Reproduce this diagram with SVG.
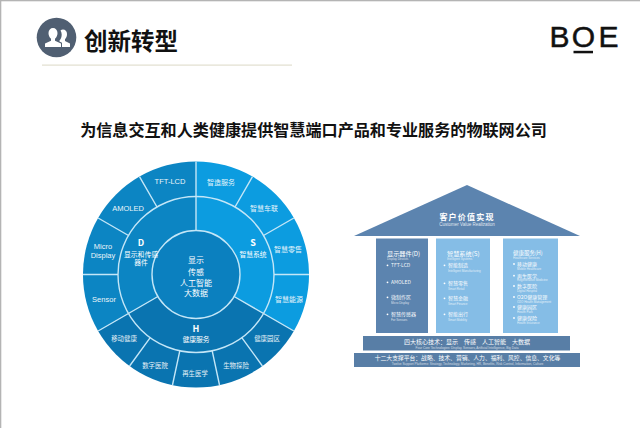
<svg xmlns="http://www.w3.org/2000/svg" width="640" height="428" viewBox="0 0 640 428">
<style>
text{font-family:"Noto Sans CJK SC","Liberation Sans",sans-serif;text-anchor:middle}
.r{font-size:6.4px;fill:#fff;opacity:.9}
.r7{font-size:7px;fill:#fff;opacity:.9}
.e{font-size:7.5px;fill:#fff;font-family:"Liberation Sans","Noto Sans CJK SC",sans-serif;opacity:.92}
.m{font-size:6.800px;fill:#fff}
.c{font-size:8px;fill:#fff}
.d{stroke:#c4e6f7;stroke-width:1.4;fill:none}
.t{font-size:5px;fill:#fff;text-anchor:start;opacity:.95}
.s{font-size:3px;fill:#fff;text-anchor:start;opacity:.75;font-family:"Liberation Sans",sans-serif}
.h{font-size:6.200px;fill:#fff;text-anchor:start}
.l{font-family:"Liberation Sans",sans-serif;font-size:30px;fill:#111;stroke:#111;stroke-width:.5}
</style>
<rect width="640" height="428" fill="#fff"/>
<rect width="640" height="1.3" fill="#b4b4b4"/>
<rect width="1.3" height="428" fill="#b4b4b4"/>
<g id="header">
<circle cx="56.500" cy="37.500" r="19.800" fill="#505f72"/>
<path d="M45 47v-3.500l6-2.800v-2c-1.800-1.500-2.500-3.500-2.500-5.700 0-3 2-5 4.500-5s4.500 2 4.500 5c0 2.200-.7 4.200-2.500 5.700v2l6 2.800V47z" fill="#fff"/>
<path d="M62 47h8v-3.500l-5-2.500v-1.800c1.500-1.500 2-3.300 2-5.200 0-2.800-1.800-4.500-4-4.500-1 0-1.800.3-2.500 1 .8 1.200 1.200 2.500 1.200 4 0 2.300-.7 4.500-2.200 6v1l2.500 1.300z" fill="#fff"/>
<text x="131" y="49.500" font-size="23.500" font-weight="700" fill="#111">创新转型</text>
<rect x="42" y="64.500" width="250" height="1.200" fill="#e2dfcf"/>
</g>
<g id="logo">
<text class="l" x="559.500" y="46.500">B</text>
<text class="l" x="583.500" y="46.500">O</text>
<text class="l" x="608.500" y="46.500">E</text>
<rect x="573.500" y="50.800" width="19.500" height="2.500" fill="#111"/>
</g>
<text id="headline" x="313.500" y="136" font-size="16.100" font-weight="700" fill="#111">为信息交互和人类健康提供智慧端口产品和专业服务的物联网公司</text>
<g id="wheel">
<path d="M196 274.500V161.500A113 113 0 0 1 293.900 331L196 274.500Z" fill="#0c9ce0"/>
<path d="M196 274.500L293.900 331A113 113 0 0 1 98.100 331Z" fill="#0a74b0"/>
<path d="M196 274.500L98.100 331A113 113 0 0 1 196 161.500Z" fill="#0c85c3"/>
<circle cx="196" cy="274.500" r="44" fill="#0b80bf"/>
<circle class="d" cx="196" cy="274.500" r="78"/>
<circle class="d" cx="196" cy="274.500" r="44"/>
<g id="connectors">
<path class="d" d="M196 230.500V161.500M234.100 296.500L293.900 331M157.900 296.500L98.100 331"/>
<path class="d" d="M235 207L252.500 176.600M263.500 235.500L293.900 218M274 274.500H309"/>
<path class="d" d="M241.800 337.600L262.400 366M212.200 350.800L219.500 385M179.800 350.800L172.500 385M150.200 337.600L129.600 366"/>
<path class="d" d="M157 207L139.500 176.600M128.500 235.500L98.100 218M118 274.500H83"/>
</g>
</g>
<g id="center"><text class="c" x="196" y="263">显示</text><text class="c" x="196" y="274.500">传感</text><text class="c" x="196" y="285.500">人工智能</text><text class="c" x="196" y="296">大数据</text></g>
<g id="seg-d"><text x="141" y="246" font-size="9" font-weight="700" fill="#fff">D</text><text class="m" x="141" y="256.500">显示和传感</text><text class="m" x="141" y="265">器件</text></g>
<g id="seg-s"><text x="253" y="246" font-size="9" font-weight="700" fill="#fff">S</text><text class="m" x="253" y="256.500">智慧系统</text></g>
<g id="seg-h"><text x="196" y="331.500" font-size="9" font-weight="700" fill="#fff">H</text><text class="m" x="196" y="341.500">健康服务</text></g>
<g id="outer-labels">
<text class="e" x="170" y="183.500">TFT-LCD</text>
<text class="e" x="128" y="210.500">AMOLED</text>
<text class="e" x="103" y="248.500">Micro</text>
<text class="e" x="103" y="257.500">Display</text>
<text class="e" x="104" y="301.500">Sensor</text>
<text class="r" x="124" y="341">移动健康</text>
<text class="r" x="155" y="368">数字医院</text>
<text class="r" x="195" y="376">再生医学</text>
<text class="r" x="236" y="368">生物探险</text>
<text class="r" x="267" y="341">健康园区</text>
<text class="r7" x="221" y="184.500">智造服务</text>
<text class="r7" x="264" y="210.500">智慧车联</text>
<text class="r7" x="288" y="251.500">智慧零售</text>
<text class="r7" x="289" y="301.500">智慧能源</text>
</g>
<g id="roof">
<path d="M467 185L354 236H580Z" fill="#5c84af"/>
<text x="467" y="219.500" font-size="8" font-weight="700" fill="#fff" letter-spacing="1.200">客户价值实现</text>
<text x="467" y="226" font-size="4.500" fill="#fff" opacity=".8" style="font-family:'Liberation Sans',sans-serif">Customer Value Realization</text>
</g>
<g id="col-d">
<rect x="376" y="238.500" width="52" height="94.500" fill="#5c84af"/>
<text class="h" x="387" y="255.500">显示器件(D)</text><text class="s" x="387" y="259.500">Display Devices</text>
<text class="t" x="391" y="267">TFT-LCD</text><text class="t" x="391" y="284">AMOLED</text>
<text class="t" x="391" y="299">微制作区</text><text class="s" x="391" y="303.500">Micro Display</text>
<text class="t" x="391" y="316">智慧传感器</text><text class="s" x="391" y="321">For Sensors</text>
<g fill="#fff"><circle cx="387.500" cy="265.300" r=".9"/><circle cx="387.500" cy="282.300" r=".9"/><circle cx="387.500" cy="297.300" r=".9"/><circle cx="387.500" cy="314.300" r=".9"/></g>
</g>
<g id="col-s">
<rect x="436" y="238.500" width="54" height="94.500" fill="#85bde6"/>
<text class="h" x="447" y="255.500">智慧系统(S)</text><text class="s" x="447" y="259.500">Intelligent Systems</text>
<text class="t" x="448" y="267">智能制造</text><text class="s" x="448" y="271.500">Intelligent Manufacturing</text>
<text class="t" x="448" y="285">智慧零售</text><text class="s" x="448" y="289.500">Smart Retail</text>
<text class="t" x="448" y="300">智慧金融</text><text class="s" x="448" y="304.500">Smart Finance</text>
<text class="t" x="448" y="316">智能出行</text><text class="s" x="448" y="320.500">Smart Mobility</text>
<g fill="#fff"><circle cx="444.500" cy="265.300" r=".9"/><circle cx="444.500" cy="283.300" r=".9"/><circle cx="444.500" cy="298.300" r=".9"/><circle cx="444.500" cy="314.300" r=".9"/></g>
</g>
<g id="col-h">
<rect x="503" y="238.500" width="55" height="94.500" fill="#85bde6"/>
<text class="h" x="513" y="254.500" style="font-size:5.500px">健康服务(H)</text><text class="s" x="513" y="258.500">Healthcare Services</text>
<text class="t" x="517" y="265.800">移动健康</text><text class="s" x="517" y="269.500">Mobile Healthcare</text>
<text class="t" x="517" y="277.500">再生医学</text><text class="s" x="517" y="281.300">Regenerative Medicine</text>
<text class="t" x="517" y="287.800">数字医院</text><text class="s" x="517" y="291.500">Digital Hospital</text>
<text class="t" x="517" y="298.800">O2O健康管理</text><text class="s" x="517" y="302.500">O2O Health Management</text>
<text class="t" x="517" y="308.800">健康园区</text><text class="s" x="517" y="312.500">Health Park</text>
<text class="t" x="517" y="319.800">健康保险</text><text class="s" x="517" y="323.500">Health Insurance</text>
<g fill="#fff"><circle cx="514" cy="264" r=".9"/><circle cx="514" cy="275.700" r=".9"/><circle cx="514" cy="286" r=".9"/><circle cx="514" cy="297" r=".9"/><circle cx="514" cy="307" r=".9"/><circle cx="514" cy="318" r=".9"/></g>
</g>
<g id="bar-core">
<rect x="363" y="336" width="207" height="14.500" fill="#587ea6"/>
<text x="467" y="343.500" font-size="6" fill="#fff">四大核心技术：显示　传感　人工智能　大数据</text>
<text x="467" y="348.500" font-size="3.200" fill="#fff" opacity=".7" style="font-family:'Liberation Sans',sans-serif">Four Core Technologies: Display, Sensors, Artificial Intelligence, Big Data</text>
</g>
<g id="bar-platform">
<rect x="354" y="353" width="226" height="14" fill="#587ea6"/>
<text x="467.500" y="359.500" font-size="5.800" fill="#fff">十二大支撑平台：战略、技术、营销、人力、福利、风控、信息、文化等</text>
<text x="467.500" y="364.500" font-size="3.200" fill="#fff" opacity=".7" style="font-family:'Liberation Sans',sans-serif">Twelve Support Platforms: Strategy, Technology, Marketing, HR, Benefits, Risk Control, Information, Culture</text>
</g>
</svg>
